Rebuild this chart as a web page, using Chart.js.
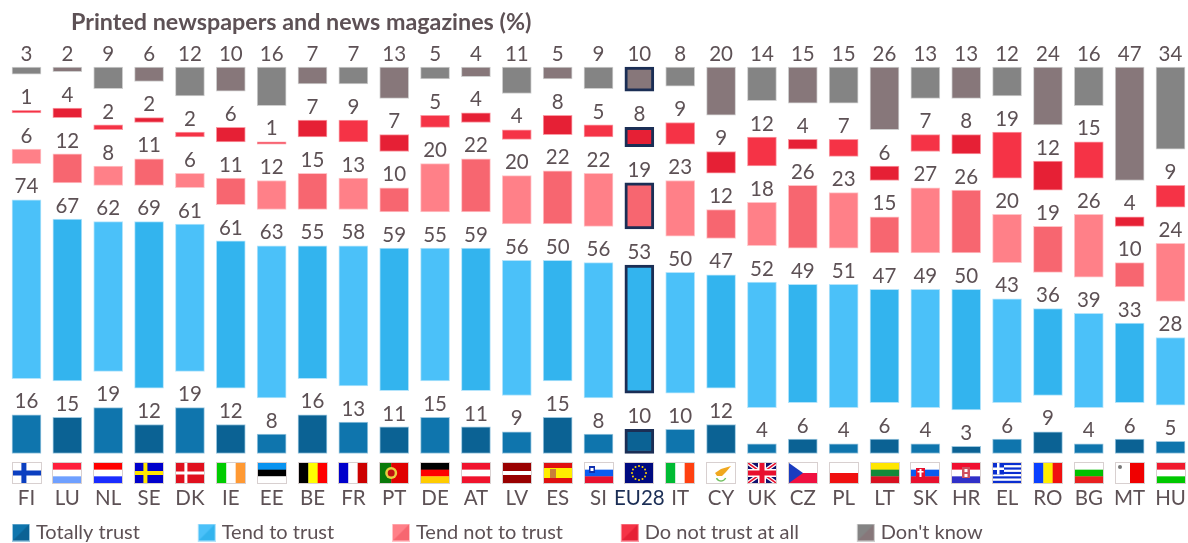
<!DOCTYPE html>
<html>
<head>
<meta charset="utf-8">
<style>html,body{margin:0;padding:0;background:#fff;overflow:hidden}#w{position:relative;width:1188px;height:543px}</style>
<script src="https://cdn.jsdelivr.net/npm/chart.js@4"></script>
</head>
<body>
<div id="w"><canvas id="c" width="1188" height="543"></canvas></div>
<script>
const titleText = 'Printed newspapers and news magazines (%)';
const countries = ['FI','LU','NL','SE','DK','IE','EE','BE','FR','PT','DE','AT','LV','ES','SI','EU28','IT','CY','UK','CZ','PL','LT','SK','HR','EL','RO','BG','MT','HU'];
const totallyTrust = [16,15,19,12,19,12,8,16,13,11,15,11,9,15,8,10,10,12,4,6,4,6,4,3,6,9,4,6,5];
const tendToTrust = [74,67,62,69,61,61,63,55,58,59,55,59,56,50,56,53,50,47,52,49,51,47,49,50,43,36,39,33,28];
const tendNotToTrust = [6,12,8,11,6,11,12,15,13,10,20,22,20,22,22,19,23,12,18,26,23,15,27,26,20,19,26,10,24];
const doNotTrust = [1,4,2,2,2,6,1,7,9,7,5,4,4,8,5,8,9,9,12,4,7,6,7,8,19,12,15,4,9];
const dontKnow = [3,2,9,6,12,10,16,7,7,13,5,4,11,5,9,10,8,20,14,15,15,26,13,13,12,24,16,47,34];
const GAP = 15;
const FONT = 'Lato';
const TEXT = '#5d5155';
const NAVY = '#1b2e55';
const EU = countries.indexOf('EU28');

const series = [
  {label:'Totally trust', data:totallyTrust, light:'#0f75ad', dark:'#0b6294', edge:'#9cc8e0'},
  {label:'Tend to trust', data:tendToTrust, light:'#4bc1f9', dark:'#33b4ee', edge:'#b4e4fb'},
  {label:'Tend not to trust', data:tendNotToTrust, light:'#ff8088', dark:'#f76670', edge:'#ffc4c8'},
  {label:'Do not trust at all', data:doNotTrust, light:'#f53346', dark:'#e62035', edge:'#fa9aa4'},
  {label:"Don't know", data:dontKnow, light:'#848484', dark:'#87777a', edge:'#cfcfcf'}
];

function swatch(s){
  const k=document.createElement('canvas'); k.width=22; k.height=18;
  const g=k.getContext('2d');
  g.fillStyle=s.light; g.fillRect(4,0,18,18);
  g.fillStyle=s.dark; g.beginPath(); g.moveTo(22,0); g.lineTo(22,18); g.lineTo(4,18); g.closePath(); g.fill();
  g.strokeStyle=s.edge; g.lineWidth=1; g.strokeRect(4.5,0.5,17,17);
  return k;
}

const datasets=[];
series.forEach((s,n)=>{
  if(n>0) datasets.push({label:'gap'+n,isGap:true,data:countries.map(()=>GAP),backgroundColor:'rgba(0,0,0,0)',borderWidth:0,barThickness:29,clip:false});
  datasets.push({
    label:s.label,data:s.data,barThickness:29,clip:false,borderSkipped:false,
    backgroundColor:countries.map((c,i)=>i%2?s.dark:s.light),
    borderColor:countries.map((c,i)=>i===EU?NAVY:s.edge),
    borderWidth:countries.map((c,i)=>i===EU?3:1),
    swatch:swatch(s)
  });
});

/* flag painters */
function bands(g,x,y,w,h,dir,cols,wts){
  wts=wts||cols.map(()=>1);const t=wts.reduce((a,b)=>a+b,0);let p=0;
  cols.forEach((c,i)=>{g.fillStyle=c;const f=wts[i]/t;
    if(dir==='h')g.fillRect(x,y+p*h,w,f*h+.3);else g.fillRect(x+p*w,y,f*w+.3,h);p+=f;});
}
function cross(g,x,y,w,h,bg,fg,t){g.fillStyle=bg;g.fillRect(x,y,w,h);g.fillStyle=fg;g.fillRect(x+w*.3,y,t,h);g.fillRect(x,y+h/2-t/2,w,t);}
function dot(g,x,y,r,c){g.fillStyle=c;g.beginPath();g.arc(x,y,r,0,7);g.fill();}
const flags={
 FI:(g,x,y,w,h)=>cross(g,x,y,w,h,'#fff','#0b3fc0',5),
 LU:(g,x,y,w,h)=>bands(g,x,y,w,h,'h',['#ff1f3c','#fff','#6fa0ff']),
 NL:(g,x,y,w,h)=>bands(g,x,y,w,h,'h',['#f00','#fff','#1a2cff']),
 SE:(g,x,y,w,h)=>cross(g,x,y,w,h,'#0000cc','#ffe600',4),
 DK:(g,x,y,w,h)=>cross(g,x,y,w,h,'#e0101e','#fff',3),
 IE:(g,x,y,w,h)=>bands(g,x,y,w,h,'v',['#00cc00','#fff','#ff9933']),
 EE:(g,x,y,w,h)=>bands(g,x,y,w,h,'h',['#0a94f0','#000','#fff']),
 BE:(g,x,y,w,h)=>bands(g,x,y,w,h,'v',['#000','#ff0','#f00']),
 FR:(g,x,y,w,h)=>bands(g,x,y,w,h,'v',['#0000cc','#fff','#c00']),
 PT:(g,x,y,w,h)=>{bands(g,x,y,w,h,'v',['#0a7a0a','#e00000'],[2,3]);dot(g,x+w*.4,y+h/2,6,'#e8d040');dot(g,x+w*.4,y+h/2,3.5,'#c01010');},
 DE:(g,x,y,w,h)=>bands(g,x,y,w,h,'h',['#000','#f00','#fc0']),
 AT:(g,x,y,w,h)=>bands(g,x,y,w,h,'h',['#f0132d','#fff','#f0132d']),
 LV:(g,x,y,w,h)=>bands(g,x,y,w,h,'h',['#990000','#fff','#990000'],[2,1,2]),
 ES:(g,x,y,w,h)=>{bands(g,x,y,w,h,'h',['#e01010','#ffee00','#e01010'],[1,2,1]);g.fillStyle='#c8803a';g.fillRect(x+6,y+6,6,9);},
 SI:(g,x,y,w,h)=>{bands(g,x,y,w,h,'h',['#fff','#0a5cf0','#e8102e']);g.fillStyle='#1030b0';g.fillRect(x+4,y+3,6,7);g.fillStyle='#fff';g.fillRect(x+5.5,y+5,3,3);},
 EU28:(g,x,y,w,h)=>{g.fillStyle='#000a80';g.fillRect(x,y,w,h);for(let a=0;a<12;a++){dot(g,x+w/2+Math.cos(a*Math.PI/6)*7,y+h/2+Math.sin(a*Math.PI/6)*7,1,'#ffd400');}},
 IT:(g,x,y,w,h)=>bands(g,x,y,w,h,'v',['#00bb33','#fff','#ff4010']),
 CY:(g,x,y,w,h)=>{g.fillStyle='#fff';g.fillRect(x,y,w,h);g.fillStyle='#f0a820';g.beginPath();g.moveTo(x+8,y+10);g.lineTo(x+14,y+6);g.lineTo(x+24,y+3);g.lineTo(x+19,y+9);g.lineTo(x+15,y+13);g.lineTo(x+10,y+13);g.closePath();g.fill();g.strokeStyle='#70c060';g.lineWidth=1.5;g.beginPath();g.arc(x+14,y+13,5,.4,2.7);g.stroke();},
 UK:(g,x,y,w,h)=>{g.fillStyle='#10106e';g.fillRect(x,y,w,h);g.save();g.beginPath();g.rect(x,y,w,h);g.clip();g.strokeStyle='#fff';g.lineWidth=4;g.beginPath();g.moveTo(x,y);g.lineTo(x+w,y+h);g.moveTo(x+w,y);g.lineTo(x,y+h);g.stroke();g.strokeStyle='#e8102e';g.lineWidth=1.5;g.stroke();g.restore();g.fillStyle='#fff';g.fillRect(x+w/2-4,y,8,h);g.fillRect(x,y+h/2-4,w,8);g.fillStyle='#e8102e';g.fillRect(x+w/2-2.5,y,5,h);g.fillRect(x,y+h/2-2.5,w,5);},
 CZ:(g,x,y,w,h)=>{bands(g,x,y,w,h,'h',['#fff','#f01040']);g.fillStyle='#1a3cc0';g.beginPath();g.moveTo(x,y);g.lineTo(x+w/2,y+h/2);g.lineTo(x,y+h);g.closePath();g.fill();},
 PL:(g,x,y,w,h)=>bands(g,x,y,w,h,'h',['#fff','#f01010']),
 LT:(g,x,y,w,h)=>bands(g,x,y,w,h,'h',['#ffe600','#118a3a','#d81020']),
 SK:(g,x,y,w,h)=>{bands(g,x,y,w,h,'h',['#fff','#0a5cf0','#e8102e']);g.fillStyle='#e8102e';g.fillRect(x+5,y+5,9,10);g.fillStyle='#fff';g.fillRect(x+8.5,y+6,2,8);g.fillRect(x+6.5,y+8,6,1.5);},
 HR:(g,x,y,w,h)=>{bands(g,x,y,w,h,'h',['#f01030','#fff','#3030c8']);g.fillStyle='#d05060';g.fillRect(x+w/2-4,y+4,8,11);g.fillStyle='#fff';g.fillRect(x+w/2-1.5,y+6,3,3);g.fillRect(x+w/2-1.5,y+11,3,3);},
 EL:(g,x,y,w,h)=>{bands(g,x,y,w,h,'h',['#0a2ed0','#fff','#0a2ed0','#fff','#0a2ed0','#fff','#0a2ed0','#fff','#0a2ed0']);g.fillStyle='#0a2ed0';g.fillRect(x,y,11,11.5);g.fillStyle='#fff';g.fillRect(x+4,y,2.5,11.5);g.fillRect(x,y+4.5,11,2.5);},
 RO:(g,x,y,w,h)=>bands(g,x,y,w,h,'v',['#0a40ff','#ffee00','#f01010']),
 BG:(g,x,y,w,h)=>bands(g,x,y,w,h,'h',['#fff','#00c000','#e82020']),
 MT:(g,x,y,w,h)=>{bands(g,x,y,w,h,'v',['#fff','#f00000']);dot(g,x+4,y+4,2,'#777');},
 HU:(g,x,y,w,h)=>bands(g,x,y,w,h,'h',['#f01a2e','#fff','#00c800'])
};

const gapsAndLabels={
  id:'trustExtras',
  afterLayout(chart){
    const t=chart.titleBlock; if(t){t.left=71;t.right=1188;}
    const l=chart.legend,p=l.options.labels.padding;
    l.left=12-p; l.top=522.5-p;
  },
  afterDatasetsDraw(chart){
    const g=chart.ctx;
    g.save();
    g.font='20.5px '+FONT; g.fillStyle=TEXT; g.textAlign='center'; g.textBaseline='middle';
    chart.data.datasets.forEach((d,n)=>{
      if(d.isGap) return;
      chart.getDatasetMeta(n).data.forEach((b,i)=>g.fillText(String(d.data[i]),b.x,b.y-13));
    });
    const sx=chart.scales.x;
    countries.forEach((c,i)=>{
      const cx=Math.round(sx.getPixelForTick(i)),w=28,h=20,x=cx-14,y=463;
      flags[c](g,x,y,w,h);
      g.strokeStyle='#d8d0d0'; g.lineWidth=1; g.strokeRect(x-.5,y-.5,w+1,h+1);
    });
    g.restore();
  }
};

new Chart(document.getElementById('c'),{
  type:'bar',
  data:{labels:countries,datasets},
  plugins:[gapsAndLabels],
  options:{
    responsive:false,animation:false,
    layout:{padding:{left:26.5,right:17.5,top:0,bottom:0}},
    scales:{
      x:{stacked:true,offset:false,grid:{display:false},border:{display:false},
        afterFit(s){s.height=67.5;s.paddingLeft=0;s.paddingRight=0;},
        ticks:{autoSkip:false,maxRotation:0,minRotation:0,padding:25,font:{family:FONT,size:20.5},
          color:c=>c.index===EU?NAVY:TEXT}},
      y:{stacked:true,display:false,min:0,max:100+GAP*(series.length-1)}
    },
    plugins:{
      tooltip:{enabled:false},
      title:{display:true,text:titleText,align:'start',color:TEXT,
        font:{family:FONT,size:23.3,weight:'bold',lineHeight:1.2},padding:{top:8,bottom:31}},
      legend:{position:'bottom',align:'start',maxHeight:22,
        labels:{usePointStyle:true,pointStyleWidth:14,padding:57.8,color:TEXT,font:{family:FONT,size:20},
          generateLabels(ch){
            return ch.data.datasets.map((d,i)=>({text:d.label,datasetIndex:i,pointStyle:d.swatch,fontColor:TEXT,hidden:false,isGap:d.isGap,lineWidth:0}))
              .filter(o=>!o.isGap);
          }}}
    }
  }
});
</script>
</body>
</html>
